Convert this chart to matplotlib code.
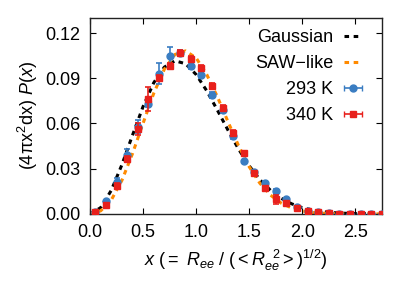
import matplotlib
matplotlib.use("Agg")
import matplotlib.pyplot as plt

plt.rcParams["font.family"] = ["Liberation Sans", "DejaVu Sans"]
plt.rcParams["mathtext.fontset"] = "custom"
plt.rcParams["mathtext.rm"] = "Liberation Sans"
plt.rcParams["mathtext.it"] = "Liberation Sans:italic"
plt.rcParams["mathtext.sf"] = "Liberation Sans"

# measured histograms (bin centres)
x_data = [0.05, 0.15, 0.25, 0.35, 0.45, 0.55, 0.65, 0.75, 0.85, 0.95,
          1.05, 1.15, 1.25, 1.35, 1.45, 1.55, 1.65, 1.75, 1.85, 1.95,
          2.05, 2.15, 2.25, 2.35, 2.45, 2.55, 2.65, 2.75]
p_293 = [0.001, 0.0085, 0.021, 0.039, 0.058, 0.073, 0.093, 0.105, 0.107, 0.098,
         0.092, 0.079, 0.0687, 0.0516, 0.035, 0.028, 0.0205, 0.0155, 0.0098, 0.0045,
         0.0022, 0.001, 0.0004, 0.0002, 0.0001, 0.0, 0.0, 0.0]
err_293 = [0.0005, 0.001, 0.003, 0.004, 0.004, 0.002, 0.007, 0.006, 0.002, 0.002,
           0.002, 0.002, 0.002, 0.002, 0.001, 0.001, 0.001, 0.001, 0.001, 0.0005,
           0.0005, 0.0003, 0.0002, 0.0001, 0.0001, 0.0, 0.0, 0.0]
p_340 = [0.001, 0.006, 0.0187, 0.0364, 0.0564, 0.076, 0.0904, 0.098, 0.1067, 0.103,
         0.097, 0.085, 0.070, 0.054, 0.0404, 0.0271, 0.0171, 0.0098, 0.0071, 0.0038,
         0.0022, 0.0012, 0.0005, 0.0002, 0.0001, 0.0, 0.0, 0.0]
err_340 = [0.0005, 0.001, 0.002, 0.002, 0.004, 0.008, 0.002, 0.002, 0.002, 0.002,
           0.002, 0.002, 0.002, 0.002, 0.001, 0.001, 0.001, 0.003, 0.001, 0.0005,
           0.0005, 0.0003, 0.0002, 0.0001, 0.0001, 0.0, 0.0, 0.0]

# model curves
x_curve = [0.0, 0.1, 0.2, 0.3, 0.4, 0.5, 0.6, 0.7, 0.8, 0.9, 1.0, 1.1, 1.2, 1.3,
           1.4, 1.5, 1.6, 1.7, 1.8, 1.9, 2.0, 2.1, 2.2, 2.3, 2.4, 2.5, 2.6, 2.7, 2.8]
p_gauss = [0.0, 0.0041, 0.0156, 0.0326, 0.0522, 0.0713, 0.0870, 0.0974, 0.1016, 0.0997,
           0.0925, 0.0817, 0.0689, 0.0556, 0.0430, 0.0319, 0.0228, 0.0157, 0.0104, 0.0067,
           0.0041, 0.0025, 0.0014, 0.0008, 0.0004, 0.0002, 0.0001, 0.00005, 0.0]
p_saw = [0.0, 0.0020, 0.0092, 0.0222, 0.0400, 0.0602, 0.0800, 0.0960, 0.1058, 0.1082,
         0.1035, 0.0925, 0.0778, 0.0612, 0.0452, 0.0313, 0.0204, 0.0125, 0.0072, 0.0039,
         0.0019, 0.0009, 0.0004, 0.00015, 0.00005, 0.0, 0.0, 0.0, 0.0]

blue = "#3a7dc2"
red = "#e8201c"
orange = "#ff8a00"

fig = plt.figure(figsize=(4.15, 2.91), dpi=100)
ax = fig.add_axes([0.217, 0.265, 0.703, 0.673])

ax.plot(x_curve, p_gauss, color="black", lw=2.2, dashes=(1.5, 1.5), zorder=2)
ax.plot(x_curve, p_saw, color=orange, lw=2.2, dashes=(1.5, 1.5), zorder=2)
ax.errorbar(x_data, p_293, yerr=err_293, fmt="o", color=blue, ms=5, elinewidth=1.2,
            capsize=2, capthick=1.2, zorder=3)
ax.errorbar(x_data, p_340, yerr=err_340, fmt="s", color=red, ms=4, elinewidth=1.2,
            capsize=2, capthick=1.2, zorder=4)

# proxies so the legend shows horizontal error bars like the original
h_g, = ax.plot([], [], color="black", lw=2.2, dashes=(1.5, 1.5))
h_s, = ax.plot([], [], color=orange, lw=2.2, dashes=(1.5, 1.5))
h_b = ax.errorbar([float("nan")], [float("nan")], xerr=[1], fmt="o", color=blue,
                  ms=5, elinewidth=1.2, capsize=2)
h_r = ax.errorbar([float("nan")], [float("nan")], xerr=[1], fmt="s", color=red,
                  ms=4, elinewidth=1.2, capsize=2)
ax.legend([h_g, h_s, h_b, h_r], ["Gaussian", "SAW\u2212like", "293 K", "340 K"],
          loc="upper right", bbox_to_anchor=(0.97, 1.0), frameon=False,
          markerfirst=False, fontsize=13, handlelength=1.0, handletextpad=0.6,
          labelspacing=0.5, borderaxespad=0.2)

ax.set_xlim(0, 2.75)
ax.set_ylim(0, 0.13)
ax.set_xticks([0.0, 0.5, 1.0, 1.5, 2.0, 2.5])
ax.set_xticklabels(["0.0", "0.5", "1.0", "1.5", "2.0", "2.5"])
ax.set_yticks([0.0, 0.03, 0.06, 0.09, 0.12])
ax.set_yticklabels(["0.00", "0.03", "0.06", "0.09", "0.12"])
ax.tick_params(direction="in", top=True, right=True, length=4, width=0.8,
               labelsize=13, pad=7)
for sp in ax.spines.values():
    sp.set_linewidth(1.0)
    sp.set_color("#222222")

ax.set_xlabel(r"$x\ \mathrm{(=}\ R_{ee}\ \mathrm{/\ (<}R_{ee}^{\ \ 2}\mathrm{>)}^{1/2}\mathrm{)}$",
              fontsize=13, labelpad=5)
ax.set_ylabel(r"$\mathrm{(4\pi x^2dx)}\ P(x)$", fontsize=13, labelpad=4)

fig.savefig("out.png", dpi=100)
